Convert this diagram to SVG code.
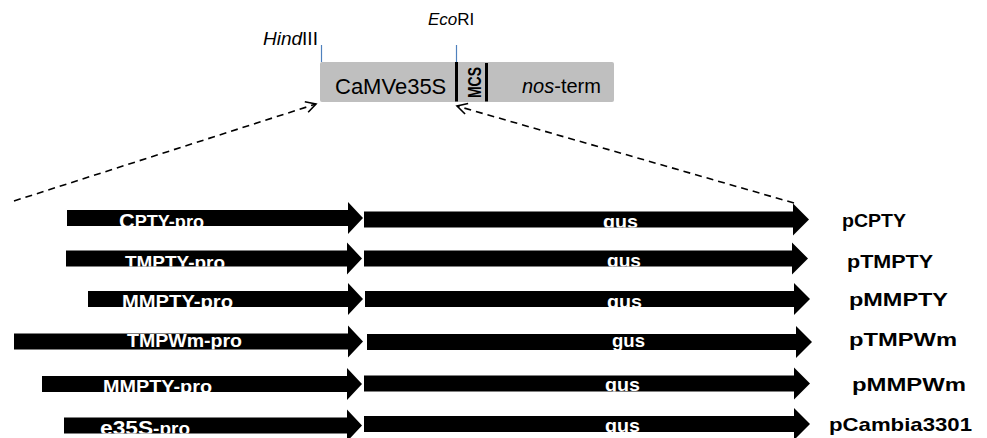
<svg xmlns="http://www.w3.org/2000/svg" width="987" height="438" viewBox="0 0 987 438">
  <style>
    .arrow { fill: #000; }
    .plbl { font-family: "Liberation Sans", Arial, sans-serif; font-weight: bold; font-size: 17.5px; fill: #fff; }
    .big { font-size: 21px; }
    .gus { font-family: "Liberation Sans", Arial, sans-serif; font-weight: bold; font-size: 19px; fill: #fff; }
    .name { font-family: "Liberation Sans", Arial, sans-serif; font-weight: bold; font-size: 19px; fill: #000; }
    .reg { font-family: "Liberation Sans", Arial, sans-serif; fill: #000; }
    .site { stroke: #4f81bd; stroke-width: 1.2; }
    .bar { stroke: #000; stroke-width: 3; }
    .dash { fill: none; stroke: #000; stroke-width: 1.6; stroke-dasharray: 7 5; }
  </style>
  <defs>
    <marker id="open" markerUnits="userSpaceOnUse" markerWidth="14" markerHeight="14" viewBox="0 0 14 14" refX="12" refY="7" orient="auto">
      <path d="M2,1.5 L12,7 L2,12.5" fill="none" stroke="#000" stroke-width="1.6"/>
    </marker>
    <!-- clip regions: label text is cut off at the lower edge of each arrow shaft -->
    <clipPath id="cp1"><rect x="0" y="210" width="987" height="16"/></clipPath>
    <clipPath id="cp2"><rect x="0" y="250.5" width="987" height="16"/></clipPath>
    <clipPath id="cp3"><rect x="0" y="291" width="987" height="16"/></clipPath>
    <clipPath id="cp4"><rect x="0" y="333.5" width="987" height="16"/></clipPath>
    <clipPath id="cp5"><rect x="0" y="376" width="987" height="16"/></clipPath>
    <clipPath id="cp6"><rect x="0" y="417.5" width="987" height="16"/></clipPath>
    <clipPath id="cg1"><rect x="0" y="211.5" width="987" height="16"/></clipPath>
    <clipPath id="cg2"><rect x="0" y="250.5" width="987" height="16"/></clipPath>
    <clipPath id="cg3"><rect x="0" y="291" width="987" height="16"/></clipPath>
    <clipPath id="cg4"><rect x="0" y="334" width="987" height="16"/></clipPath>
    <clipPath id="cg5"><rect x="0" y="375.5" width="987" height="16"/></clipPath>
    <clipPath id="cg6"><rect x="0" y="416" width="987" height="16"/></clipPath>
  </defs>

  <!-- expression cassette -->
  <g id="cassette">
    <rect x="320" y="62" width="294" height="40" rx="2" fill="#bfbfbf"/>
    <line class="site" x1="321.5" y1="45" x2="321.5" y2="62"/>
    <line class="site" x1="456.5" y1="45" x2="456.5" y2="62"/>
    <line class="bar" x1="456.5" y1="62" x2="456.5" y2="101.5"/>
    <line class="bar" x1="486.5" y1="63" x2="486.5" y2="101.5"/>
    <text class="reg" x="263" y="45" font-size="19"><tspan font-style="italic">Hind</tspan>III</text>
    <text class="reg" x="428" y="25" font-size="17"><tspan font-style="italic">Eco</tspan>RI</text>
    <text class="reg" x="335" y="94" font-size="22">CaMVe35S</text>
    <text class="reg" x="0" y="0" font-size="17.5" font-weight="bold" text-anchor="middle" textLength="31" lengthAdjust="spacingAndGlyphs" transform="translate(481,82.5) rotate(-90)">MCS</text>
    <text class="reg" x="522" y="93" font-size="20"><tspan font-style="italic">nos</tspan>-term</text>
  </g>

  <!-- row 1: pCPTY -->
  <g id="pCPTY">
    <g id="pCPTY-promoter">
      <polygon class="arrow" points="67,210 348,210 348,202 363,218 348,234 348,226 67,226"/>
      <text class="plbl" x="119" y="228" clip-path="url(#cp1)" textLength="85" lengthAdjust="spacingAndGlyphs"><tspan class="big">C</tspan>PTY-pro</text>
    </g>
    <g id="pCPTY-gus">
      <polygon class="arrow" points="364,211.5 793,211.5 793,203.5 809,219.5 793,235.5 793,227.5 364,227.5"/>
      <text class="gus" x="603" y="228" clip-path="url(#cg1)" textLength="35" lengthAdjust="spacingAndGlyphs">gus</text>
    </g>
    <text class="name" x="842" y="227" textLength="64" lengthAdjust="spacingAndGlyphs">pCPTY</text>
  </g>

  <!-- row 2: pTMPTY -->
  <g id="pTMPTY">
    <g id="pTMPTY-promoter">
      <polygon class="arrow" points="66,250.5 347,250.5 347,242.5 362,258.5 347,274.5 347,266.5 66,266.5"/>
      <text class="plbl" x="125" y="269" clip-path="url(#cp2)" textLength="100" lengthAdjust="spacingAndGlyphs">TMPTY-pro</text>
    </g>
    <g id="pTMPTY-gus">
      <polygon class="arrow" points="364,250.5 792,250.5 792,242.5 808,258.5 792,274.5 792,266.5 364,266.5"/>
      <text class="gus" x="607" y="267" clip-path="url(#cg2)" textLength="34" lengthAdjust="spacingAndGlyphs">gus</text>
    </g>
    <text class="name" x="847" y="268" textLength="86" lengthAdjust="spacingAndGlyphs">pTMPTY</text>
  </g>

  <!-- row 3: pMMPTY -->
  <g id="pMMPTY">
    <g id="pMMPTY-promoter">
      <polygon class="arrow" points="88,291 348,291 348,283 363,299 348,315 348,307 88,307"/>
      <text class="plbl" x="122" y="308" clip-path="url(#cp3)" textLength="111" lengthAdjust="spacingAndGlyphs">MMPTY-pro</text>
    </g>
    <g id="pMMPTY-gus">
      <polygon class="arrow" points="365,291 794,291 794,283 810,299 794,315 794,307 365,307"/>
      <text class="gus" x="607" y="307.5" clip-path="url(#cg3)" textLength="35" lengthAdjust="spacingAndGlyphs">gus</text>
    </g>
    <text class="name" x="849" y="306" textLength="99" lengthAdjust="spacingAndGlyphs">pMMPTY</text>
  </g>

  <!-- row 4: pTMPWm -->
  <g id="pTMPWm">
    <g id="pTMPWm-promoter">
      <polygon class="arrow" points="14,333.5 348,333.5 348,325.5 363,341.5 348,357.5 348,349.5 14,349.5"/>
      <text class="plbl" x="127" y="346.5" clip-path="url(#cp4)" textLength="115" lengthAdjust="spacingAndGlyphs">TMPWm-pro</text>
    </g>
    <g id="pTMPWm-gus">
      <polygon class="arrow" points="367,334 796,334 796,326 812,342 796,358 796,350 367,350"/>
      <text class="gus" x="612" y="347" clip-path="url(#cg4)" textLength="33" lengthAdjust="spacingAndGlyphs">gus</text>
    </g>
    <text class="name" x="849" y="346" textLength="108" lengthAdjust="spacingAndGlyphs">pTMPWm</text>
  </g>

  <!-- row 5: pMMPWm -->
  <g id="pMMPWm">
    <g id="pMMPWm-promoter">
      <polygon class="arrow" points="42,376 347,376 347,368 362,384 347,400 347,392 42,392"/>
      <text class="plbl" x="103" y="393" clip-path="url(#cp5)" textLength="109" lengthAdjust="spacingAndGlyphs">MMPTY-pro</text>
    </g>
    <g id="pMMPWm-gus">
      <polygon class="arrow" points="364,375.5 794,375.5 794,367.5 810,383.5 794,399.5 794,391.5 364,391.5"/>
      <text class="gus" x="605" y="391" clip-path="url(#cg5)" textLength="35" lengthAdjust="spacingAndGlyphs">gus</text>
    </g>
    <text class="name" x="852" y="391" textLength="114" lengthAdjust="spacingAndGlyphs">pMMPWm</text>
  </g>

  <!-- row 6: pCambia3301 -->
  <g id="pCambia3301">
    <g id="pCambia3301-promoter">
      <polygon class="arrow" points="64,417.5 347,417.5 347,409.5 362,425.5 347,441.5 347,433.5 64,433.5"/>
      <text class="plbl" x="100" y="435" clip-path="url(#cp6)" textLength="90" lengthAdjust="spacingAndGlyphs"><tspan class="big">e35S</tspan>-pro</text>
    </g>
    <g id="pCambia3301-gus">
      <polygon class="arrow" points="364,416 794,416 794,408 810,424 794,440 794,432 364,432"/>
      <text class="gus" x="605" y="432" clip-path="url(#cg6)" textLength="35" lengthAdjust="spacingAndGlyphs">gus</text>
    </g>
    <text class="name" x="829" y="431" textLength="143" lengthAdjust="spacingAndGlyphs">pCambia3301</text>
  </g>

  <!-- insertion-point connectors -->
  <g id="connectors">
    <line class="dash" x1="14" y1="201" x2="316" y2="104" marker-end="url(#open)"/>
    <line class="dash" x1="794" y1="203" x2="457" y2="106" marker-end="url(#open)"/>
  </g>
</svg>
